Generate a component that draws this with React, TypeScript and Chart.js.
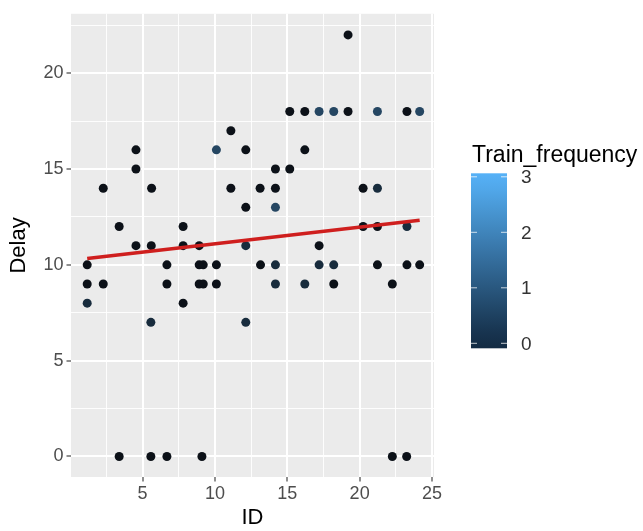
import React, { useEffect, useRef } from "react";
import { Chart, registerables } from "chart.js";
Chart.register(...registerables);

const ids = [
  19.2,
  15.17, 16.21, 17.2, 18.21, 19.2, 21.23, 23.27, 24.15,
  11.1,
  4.54, 10.1, 12.13, 16.21,
  4.54, 14.18, 15.17,
  2.28, 5.62, 11.1, 13.12, 14.18, 20.24, 21.23,
  12.13, 14.18,
  3.38, 7.8, 20.24, 21.23, 23.27,
  4.54, 5.6, 7.8, 8.91, 12.13, 17.2,
  1.17, 6.68, 8.91, 9.19, 10.1, 13.15, 14.18, 17.2, 18.21, 21.23, 23.27, 24.15,
  1.17, 2.28, 6.68, 8.91, 9.19, 10.1, 14.18, 16.21, 18.21, 22.26,
  1.17, 7.8,
  5.57, 12.13,
  3.38, 5.57, 6.68, 9.1, 22.26, 23.25,
];
const delays = [
  22,
  18, 18, 18, 18, 18, 18, 18, 18,
  17,
  16, 16, 16, 16,
  15, 15, 15,
  14, 14, 14, 14, 14, 14, 14,
  13, 13,
  12, 12, 12, 12, 12,
  11, 11, 11, 11, 11, 11,
  10, 10, 10, 10, 10, 10, 10, 10, 10, 10, 10, 10,
  9, 9, 9, 9, 9, 9, 9, 9, 9, 9,
  8, 8,
  7, 7,
  0, 0, 0, 0, 0, 0,
];
const trainFrequency = [
  0,
  0, 0, 1, 1, 0, 1, 0, 1,
  0,
  0, 1, 0, 0,
  0, 0, 0,
  0, 0, 0, 0, 0, 0, 0.5,
  0, 1,
  0, 0, 0, 0, 0.5,
  0, 0, 0, 0, 0.5, 0,
  0, 0, 0, 0, 0, 0, 0.5, 0.5, 0.5, 0, 0, 0,
  0, 0, 0, 0, 0, 0, 0.5, 0.5, 0, 0,
  0.5, 0,
  0.5, 0.5,
  0, 0, 0, 0, 0, 0,
];

const fitIds = [1.17, 24.15];
const fitDelays = [10.33, 12.33];

const xMajorTicks = [5, 10, 15, 20, 25];
const xMinorTicks = [2.5, 7.5, 12.5, 17.5, 22.5];
const yMajorTicks = [0, 5, 10, 15, 20];
const yMinorTicks = [2.5, 7.5, 12.5, 17.5, 22.5];
const legendTicks = [0, 1, 2, 3];
const legendTitle = "Train_frequency";
const xTitle = "ID";
const yTitle = "Delay";

const FONT = "'Liberation Sans', Arial, sans-serif";

function hexToRgb(h: string) {
  const n = parseInt(h.slice(1), 16);
  return [(n >> 16) & 255, (n >> 8) & 255, n & 255];
}
function lerpColor(a: string, b: string, t: number) {
  const A = hexToRgb(a), B = hexToRgb(b);
  const c = A.map((v, i) => Math.round(v + (B[i] - v) * t));
  return `rgb(${c[0]},${c[1]},${c[2]})`;
}
const pointColor = (f: number) => lerpColor("#0c1118", "#56B1F7", Math.max(0, Math.min(1, f / 3)));

const bgPlugin = {
  id: "panelBg",
  beforeDraw(chart: any) {
    const { ctx, chartArea } = chart;
    ctx.save();
    ctx.fillStyle = "#EBEBEB";
    ctx.fillRect(chartArea.left, chartArea.top, chartArea.right - chartArea.left, chartArea.bottom - chartArea.top);
    ctx.restore();
  },
};

const legendPlugin = {
  id: "colorbar",
  afterDraw(chart: any) {
    const ctx = chart.ctx;
    ctx.save();
    ctx.fillStyle = "#000";
    ctx.font = `23px ${FONT}`;
    ctx.textBaseline = "alphabetic";
    ctx.fillText(legendTitle, 472, 162);
    const barL = 471, barR = 507, barT = 173.3, barB = 348.3;
    const y0 = 343.3, unit = 55.5;
    const vTop = (y0 - barT) / unit, vBot = (y0 - barB) / unit;
    const grad = ctx.createLinearGradient(0, barB, 0, barT);
    const steps = 10;
    for (let i = 0; i <= steps; i++) {
      const v = vBot + (vTop - vBot) * (i / steps);
      grad.addColorStop(i / steps, lerpColor("#132B43", "#56B1F7", Math.max(0, Math.min(1, v / 3))));
    }
    ctx.fillStyle = grad;
    ctx.fillRect(barL, barT, barR - barL, barB - barT);
    ctx.strokeStyle = "rgba(255,255,255,0.75)";
    ctx.lineWidth = 1;
    ctx.fillStyle = "#333333";
    ctx.font = `19px ${FONT}`;
    ctx.textBaseline = "middle";
    legendTicks.forEach((v) => {
      const y = y0 - unit * v;
      ctx.beginPath();
      ctx.moveTo(barL, y);
      ctx.lineTo(barL + 6, y);
      ctx.moveTo(barR - 6, y);
      ctx.lineTo(barR, y);
      ctx.stroke();
      ctx.fillText(String(v), 521, y + 1);
    });
    ctx.restore();
  },
};

export default function App() {
  const ref = useRef<HTMLCanvasElement | null>(null);
  useEffect(() => {
    if (!ref.current) return;
    const points = ids.map((x, i) => ({ x, y: delays[i] }));
    const colors = trainFrequency.map(pointColor);
    const fit = fitIds.map((x, i) => ({ x, y: fitDelays[i] }));
    const isMajorX = (v: number) => xMajorTicks.includes(v);
    const isMajorY = (v: number) => yMajorTicks.includes(v);
    const chart = new Chart(ref.current, {
      type: "scatter",
      data: {
        datasets: [
          {
            type: "line",
            data: fit,
            borderColor: "#CF1F1E",
            borderWidth: 3.5,
            pointRadius: 0,
            fill: false,
            order: 0,
          } as any,
          {
            type: "scatter",
            data: points,
            pointBackgroundColor: colors,
            pointBorderWidth: 0,
            pointRadius: 4.5,
            order: 1,
          } as any,
        ],
      },
      options: {
        responsive: false,
        animation: false,
        devicePixelRatio: 1,
        layout: { padding: { left: 0, top: 10, right: 209, bottom: 0 } },
        plugins: { legend: { display: false }, tooltip: { enabled: false } },
        scales: {
          x: {
            type: "linear",
            min: 0.05,
            max: 25.14,
            afterBuildTicks: (s: any) => {
              s.ticks = [...xMinorTicks, ...xMajorTicks].sort((a, b) => a - b).map((v) => ({ value: v }));
            },
            afterFit: (s: any) => {
              s.height = 54;
            },
            border: { display: false },
            grid: {
              color: "#FFFFFF",
              lineWidth: (c: any) => (c.tick && isMajorX(c.tick.value) ? 2 : 0.9),
              tickColor: (c: any) => (c.tick && isMajorX(c.tick.value) ? "#333333" : "rgba(0,0,0,0)"),
              tickLength: 4.5,
              tickWidth: 1.1,
              drawTicks: true,
            },
            ticks: {
              autoSkip: false,
              maxRotation: 0,
              padding: 2,
              color: "#4D4D4D",
              font: { size: 18, family: FONT },
              callback: (v: any) => (isMajorX(Number(v)) ? String(v) : ""),
            },
            title: {
              display: true,
              text: xTitle,
              color: "#000",
              font: { size: 22, family: FONT },
              padding: { top: 0, bottom: 0 },
            },
          },
          y: {
            type: "linear",
            min: -1.07,
            max: 23.1,
            afterBuildTicks: (s: any) => {
              s.ticks = [...yMinorTicks, ...yMajorTicks].sort((a, b) => a - b).map((v) => ({ value: v }));
            },
            afterFit: (s: any) => {
              s.width = 71;
            },
            border: { display: false },
            grid: {
              color: "#FFFFFF",
              lineWidth: (c: any) => (c.tick && isMajorY(c.tick.value) ? 2 : 0.9),
              tickColor: (c: any) => (c.tick && isMajorY(c.tick.value) ? "#333333" : "rgba(0,0,0,0)"),
              tickLength: 4.5,
              tickWidth: 1.1,
              drawTicks: true,
            },
            ticks: {
              autoSkip: false,
              padding: 3,
              color: "#4D4D4D",
              font: { size: 18, family: FONT },
              callback: (v: any) => (isMajorY(Number(v)) ? String(v) : ""),
            },
            title: {
              display: true,
              text: yTitle,
              color: "#000",
              font: { size: 22, family: FONT },
              padding: { top: 6, bottom: 0 },
            },
          },
        },
      },
      plugins: [bgPlugin, legendPlugin],
    } as any);
    return () => chart.destroy();
  }, []);
  return (
    <div style={{ position: "fixed", left: 0, top: 0, width: 643, height: 531, background: "#fff" }}>
      <canvas ref={ref} width={643} height={531} style={{ width: 643, height: 531, display: "block" }} />
    </div>
  );
}
